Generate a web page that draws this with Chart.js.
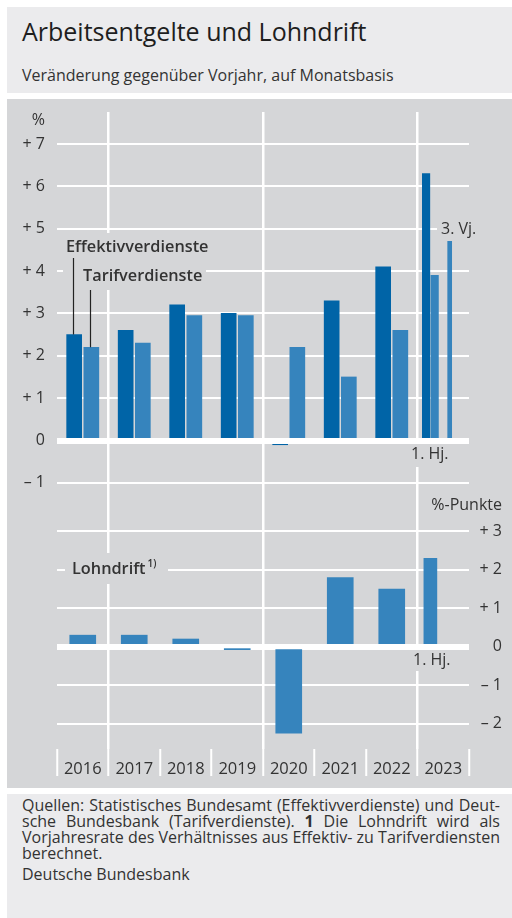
<!DOCTYPE html>
<html><head><meta charset="utf-8">
<script src="https://cdn.jsdelivr.net/npm/chart.js@4/dist/chart.umd.min.js"></script>
<style>
html,body{margin:0;padding:0;background:#fff;width:512px;height:918px;overflow:hidden;font-family:"Open Sans",sans-serif;color:#2a2a2a}
#hdr{position:absolute;left:7px;top:7px;width:505px;height:86px;background:#ebebed}
#title{position:absolute;left:15px;top:12px;font-size:25px;line-height:25px;white-space:nowrap;color:#1e1e1e}
#sub{position:absolute;left:15px;top:60px;font-size:16px;line-height:16px;white-space:nowrap;color:#333}
#plot{position:absolute;left:7px;top:99px;width:505px;height:689px;background:#d5d6d8}
#ftr{position:absolute;left:7px;top:794px;width:505px;height:124px;background:#ebebed}
.fl{position:absolute;left:22px;width:478px;font-size:16px;line-height:16px;color:#333;white-space:nowrap}
.j{text-align:justify;text-align-last:justify}
#wrap{position:absolute;left:0;top:0;width:512px;height:918px}
</style></head>
<body>
<div id="hdr"><div id="title">Arbeitsentgelte und Lohndrift</div><div id="sub">Veränderung gegenüber Vorjahr, auf Monatsbasis</div></div>
<div id="plot"></div>
<div id="ftr"></div>
<div class="fl j" style="top:797px">Quellen: Statistisches Bundesamt (Effektivverdienste) und Deut-</div>
<div class="fl j" style="top:813px">sche Bundesbank (Tarifverdienste). <b>1</b> Die Lohndrift wird als</div>
<div class="fl j" style="top:829px">Vorjahresrate des Verhältnisses aus Effektiv- zu Tarifverdiensten</div>
<div class="fl" style="top:845px">berechnet.</div>
<div class="fl" style="top:866px">Deutsche Bundesbank</div>
<div id="wrap"><canvas id="cv" width="512" height="918"></canvas></div>
<script>
// ---- data ----
const years = ['2016','2017','2018','2019','2020','2021','2022','2023'];
const effektiv = [2.5, 2.6, 3.2, 3.0, -0.1, 3.3, 4.1, null];
const tarif = [2.2, 2.3, 2.95, 2.95, 2.2, 1.5, 2.6, null];
const effektiv2023H1 = 6.3;
const tarif2023H1 = 3.9;
const tarif2023Q3 = 4.7;
const lohndrift = [0.3, 0.3, 0.2, -0.05, -2.25, 1.8, 1.5, null];
const lohndrift2023H1 = 2.3;
const leftTicks = [-1, 0, 1, 2, 3, 4, 5, 6, 7];
const rightTicks = [-2, -1, 0, 1, 2, 3];

// ---- period / sub-category labels (hidden positioning axes) ----
const E = 'Effektivverdienste', T = 'Tarifverdienste';
const halfYears = years.flatMap(y => [y + ' 1. Hj.', y + ' 2. Hj.']);
const quarters = years.flatMap(y => [y + ' 1. Vj.', y + ' 2. Vj.', y + ' 3. Vj.', y + ' 4. Vj.']);
const yearSub = years.flatMap(y => [y, y + ' ' + E, y + ' ' + T]).concat(['2024']);
const halfSub = halfYears.flatMap(h => [h, h + ' ' + E, h + ' ' + T]).concat(['2024 1. Hj.']);

// ---- layout ----
const DARK = '#0064a7', LIGHT = '#3684bd', BG = '#d5d6d8', TXT = '#333333';
const AREA_TOP = 112, AREA_BOT = 749;
const Y_ZERO = 440.5, Y_PPU = 42.36;
const Y2_ZERO = 646.7, Y2_PPU = 38.45;
const FONT = '"Open Sans", sans-serif';

const fmt = v => v > 0 ? '+ ' + v : (v < 0 ? '\u2013 ' + Math.abs(v) : '0');

const annot = {
  id: 'annot',
  afterDatasetsDraw(chart) {
    const {ctx, scales: {y}, chartArea: ca} = chart;
    ctx.save();
    // zero line of upper panel drawn over the bars
    const z = Math.round(y.getPixelForValue(0));
    ctx.fillStyle = '#fff';
    ctx.fillRect(ca.left, z - 3, ca.right - ca.left, 6);

    const box = (x, yy, w, h) => { ctx.fillStyle = BG; ctx.fillRect(x, yy, w, h); };
    const text = (s, x, yy, font, align) => {
      ctx.font = font; ctx.fillStyle = TXT; ctx.textBaseline = 'middle';
      ctx.textAlign = align || 'left'; ctx.fillText(s, x, yy);
      return ctx.measureText(s).width;
    };
    const semi = '600 16.3px ' + FONT, reg = '16px ' + FONT;

    // label boxes (break grid lines)
    box(63, 233, 150, 25);
    box(63, 258, 143, 32);
    box(437, 220, 44, 17);
    box(409, 444, 42, 23);
    box(409, 650, 44, 21);
    box(65, 553, 103, 31);

    text('Effektivverdienste', 66, 247, semi);
    text('Tarifverdienste', 83, 276, semi);
    text('3. Vj.', 441, 229, reg);
    text('1. Hj.', 411, 454, reg);
    text('1. Hj.', 413, 660, reg);
    const w = text('Lohndrift', 72, 569, semi);
    text('1)', 72 + w + 2, 564, '600 10px ' + FONT);
    text('%', 45, 120, reg, 'right');
    text('%-Punkte', 502, 505, reg, 'right');

    // leader lines to the 2016 bars
    const e = chart.getDatasetMeta(0).data[0];
    const t = chart.getDatasetMeta(1).data[0];
    ctx.strokeStyle = '#222'; ctx.lineWidth = 1.2;
    ctx.beginPath();
    const ex = Math.round(e.x - 1.5) + 0.5, tx = Math.round(t.x - 1.5) + 0.5;
    ctx.moveTo(ex, 258); ctx.lineTo(ex, e.y);
    ctx.moveTo(tx, 290); ctx.lineTo(tx, t.y);
    ctx.stroke();
    ctx.restore();
  }
};

const hiddenCat = (labels, offset) => ({type: 'category', labels, offset, display: false, grid: {offset}});
const bar = (label, data, xAxisID, yAxisID, color, thickness) =>
  ({label, data, xAxisID, yAxisID, backgroundColor: color, grouped: false, barThickness: thickness});

new Chart(document.getElementById('cv'), {
  type: 'bar',
  data: {
    datasets: [
      bar(E, years.map((yr, i) => ({x: yr + ' ' + E, y: effektiv[i]})), 'xt', 'y', DARK, 15),
      bar(T, years.map((yr, i) => ({x: yr + ' ' + T, y: tarif[i]})), 'xt', 'y', LIGHT, 15),
      bar(E + ' 1. Hj.', [{x: '2023 1. Hj. ' + E, y: effektiv2023H1}], 'xht', 'y', DARK, 7.5),
      bar(T + ' 1. Hj.', [{x: '2023 1. Hj. ' + T, y: tarif2023H1}], 'xht', 'y', LIGHT, 7.5),
      bar(T + ' 3. Vj.', [{x: '2023 3. Vj.', y: tarif2023Q3}], 'xq', 'y', LIGHT, 4),
      bar('Lohndrift', years.map((yr, i) => ({x: yr, y: lohndrift[i]})), 'x', 'y2', LIGHT, 26),
      bar('Lohndrift 1. Hj.', [{x: '2023 1. Hj.', y: lohndrift2023H1}], 'xh', 'y2', LIGHT, 13)
    ]
  },
  options: {
    responsive: false,
    animation: false,
    devicePixelRatio: 1,
    layout: {padding: {top: AREA_TOP, left: 0, right: 10, bottom: 918 - AREA_BOT - 27}},
    plugins: {legend: {display: false}, tooltip: {enabled: false}},
    scales: {
      x: {
        type: 'category', labels: years, offset: true, position: 'bottom',
        grid: {offset: true, drawOnChartArea: true, drawTicks: true, tickLength: 27,
               color: c => [1, 4, 7].includes(c.index) ? '#ffffff' : 'rgba(0,0,0,0)',
               lineWidth: 2.5, tickColor: '#ffffff', tickWidth: 2},
        border: {display: false},
        ticks: {color: TXT, font: {size: 16.5, family: FONT}, padding: -17, autoSkip: false, maxRotation: 0},
        afterFit: s => { s.height = 27; }
      },
      xt: hiddenCat(yearSub, false),
      xht: hiddenCat(halfSub, false),
      xh: hiddenCat(halfYears, true),
      xq: hiddenCat(quarters, true),
      y: {
        type: 'linear', position: 'left', stacked: false,
        max: (Y_ZERO - AREA_TOP) / Y_PPU, min: -(AREA_BOT - Y_ZERO) / Y_PPU,
        afterBuildTicks: s => { s.ticks = leftTicks.map(v => ({value: v})); },
        grid: {color: '#ffffff', lineWidth: 2, drawTicks: false},
        border: {display: false},
        ticks: {padding: 12, color: TXT, font: {size: 16, family: FONT}, callback: fmt},
        afterFit: s => { s.width = 57; }
      },
      y2: {
        type: 'linear', position: 'right', stacked: false,
        max: (Y2_ZERO - AREA_TOP) / Y2_PPU, min: -(AREA_BOT - Y2_ZERO) / Y2_PPU,
        afterBuildTicks: s => { s.ticks = rightTicks.map(v => ({value: v})); },
        grid: {color: '#ffffff', lineWidth: c => c.tick && c.tick.value === 0 ? 6 : 2, drawTicks: false},
        border: {display: false},
        ticks: {padding: 0, crossAlign: 'far', color: TXT, font: {size: 16, family: FONT}, callback: fmt},
        afterFit: s => { s.width = 33; }
      }
    }
  },
  plugins: [annot]
});
</script>
</body></html>
